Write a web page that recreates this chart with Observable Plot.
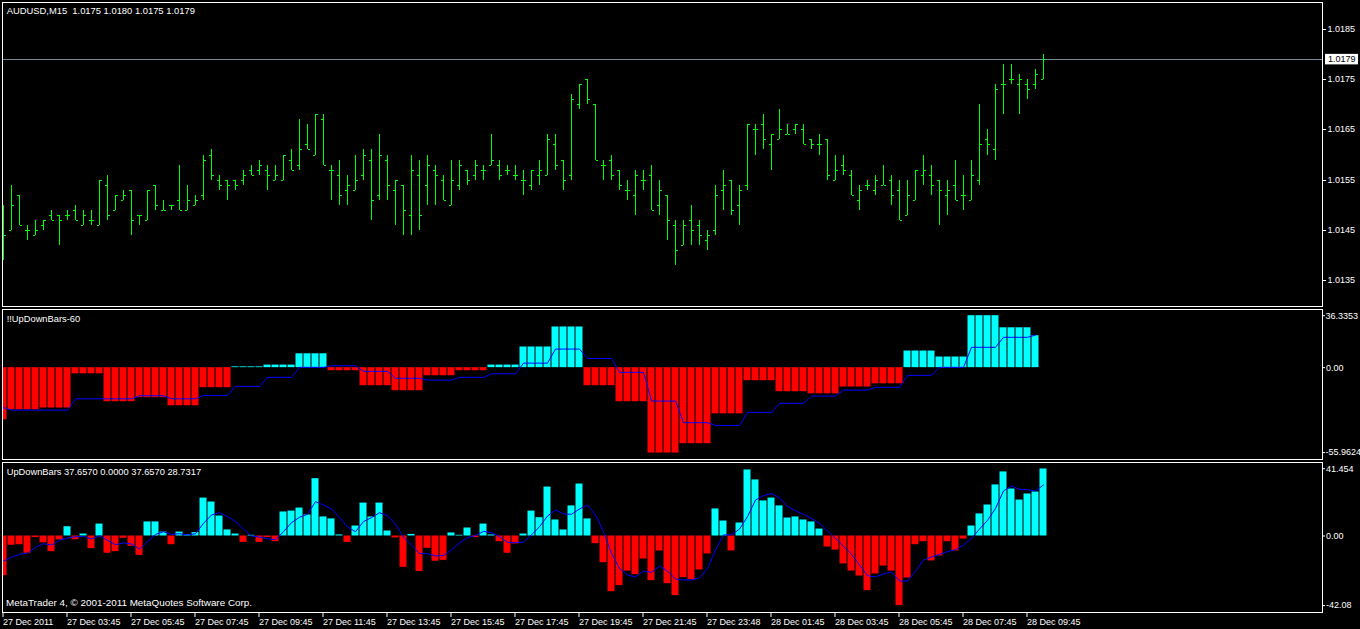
<!DOCTYPE html>
<html><head><meta charset="utf-8">
<script src="https://cdn.jsdelivr.net/npm/d3@7"></script>
<script src="https://cdn.jsdelivr.net/npm/@observablehq/plot@0.6"></script>
<style>
html,body{margin:0;padding:0;background:#000;}
body{width:1360px;height:629px;overflow:hidden;position:relative;}
.panel{position:absolute;left:0;}
svg{display:block}
</style></head><body>
<div id="p1" class="panel" style="top:0"></div>
<div id="p2" class="panel" style="top:308px"></div>
<div id="p3" class="panel" style="top:461px"></div>
<script>
// ---------- data ----------
const symbolTitle = "AUDUSD,M15\u00a0\u00a01.0175 1.0180 1.0175 1.0179";
const udb60Title = "!!UpDownBars-60";
const udbTitle = "UpDownBars 37.6570 0.0000 37.6570 28.7317";
const copyright = "MetaTrader 4, \u00a9 2001-2011 MetaQuotes Software Corp.";

const timeTickBars = [0,8,16,24,32,40,48,56,64,72,80,88,96,104,112,120,128];
const timeTickLabels = ["27 Dec 2011","27 Dec 03:45","27 Dec 05:45","27 Dec 07:45","27 Dec 09:45",
  "27 Dec 11:45","27 Dec 13:45","27 Dec 15:45","27 Dec 17:45","27 Dec 19:45","27 Dec 21:45",
  "27 Dec 23:48","28 Dec 01:45","28 Dec 03:45","28 Dec 05:45","28 Dec 07:45","28 Dec 09:45"];

const priceTicks = [1.0185,1.0175,1.0165,1.0155,1.0145,1.0135];
const lastPrice = 1.0179;

const openPrice = [1.0141,1.0145,1.0152,1.0145,1.0144,1.0146,1.0148,1.0148,1.0148,1.0149,
1.0146,1.0147,1.0146,1.0154,1.0149,1.0151,1.0153,1.0148,1.0147,1.0154,
1.0149,1.0150,1.0151,1.0149,1.0150,1.0152,1.0160,1.0155,1.0155,1.0155,
1.0155,1.0157,1.0157,1.0157,1.0155,1.0155,1.0159,1.0158,1.0162,1.0160,
1.0167,1.0157,1.0156,1.0153,1.0153,1.0156,1.0159,1.0152,1.0159,1.0153,
1.0154,1.0148,1.0156,1.0154,1.0157,1.0155,1.0150,1.0154,1.0157,1.0156,
1.0157,1.0158,1.0158,1.0157,1.0156,1.0155,1.0154,1.0156,1.0156,1.0162,
1.0159,1.0156,1.0170,1.0175,1.0170,1.0158,1.0159,1.0157,1.0153,1.0152,
1.0155,1.0156,1.0150,1.0152,1.0146,1.0142,1.0147,1.0146,1.0143,1.0145,
1.0153,1.0155,1.0150,1.0154,1.0165,1.0166,1.0162,1.0163,1.0164,1.0165,
1.0165,1.0163,1.0162,1.0163,1.0155,1.0158,1.0156,1.0151,1.0154,1.0153,
1.0154,1.0155,1.0153,1.0148,1.0151,1.0156,1.0156,1.0155,1.0152,1.0154,
1.0152,1.0151,1.0155,1.0163,1.0161,1.0174,1.0175,1.0174,1.0174,1.0174,
1.0175];
const highPrice = [1.0150,1.0154,1.0152,1.0146,1.0147,1.0147,1.0149,1.0148,1.0149,1.0150,
1.0149,1.0149,1.0155,1.0156,1.0152,1.0153,1.0153,1.0148,1.0153,1.0154,
1.0151,1.0150,1.0158,1.0154,1.0152,1.0160,1.0161,1.0156,1.0155,1.0155,
1.0157,1.0158,1.0159,1.0158,1.0158,1.0160,1.0161,1.0167,1.0166,1.0168,
1.0168,1.0158,1.0159,1.0156,1.0160,1.0161,1.0161,1.0164,1.0160,1.0155,
1.0154,1.0160,1.0159,1.0160,1.0158,1.0156,1.0159,1.0159,1.0157,1.0159,
1.0158,1.0164,1.0159,1.0158,1.0158,1.0157,1.0157,1.0159,1.0164,1.0164,
1.0159,1.0172,1.0174,1.0175,1.0170,1.0159,1.0160,1.0157,1.0155,1.0157,
1.0157,1.0158,1.0155,1.0152,1.0147,1.0147,1.0150,1.0147,1.0145,1.0154,
1.0157,1.0155,1.0154,1.0166,1.0166,1.0168,1.0164,1.0169,1.0166,1.0166,
1.0166,1.0163,1.0164,1.0163,1.0160,1.0160,1.0157,1.0154,1.0155,1.0156,
1.0158,1.0156,1.0155,1.0155,1.0157,1.0160,1.0158,1.0155,1.0155,1.0159,
1.0156,1.0159,1.0170,1.0165,1.0174,1.0178,1.0178,1.0176,1.0175,1.0177,
1.0180];
const lowPrice = [1.0139,1.0145,1.0146,1.0143,1.0144,1.0145,1.0147,1.0142,1.0147,1.0147,
1.0146,1.0146,1.0146,1.0147,1.0149,1.0151,1.0144,1.0146,1.0147,1.0149,
1.0149,1.0149,1.0149,1.0149,1.0150,1.0151,1.0155,1.0153,1.0151,1.0153,
1.0154,1.0156,1.0156,1.0153,1.0155,1.0155,1.0157,1.0157,1.0161,1.0160,
1.0158,1.0151,1.0150,1.0150,1.0153,1.0155,1.0147,1.0151,1.0151,1.0146,
1.0144,1.0144,1.0145,1.0150,1.0150,1.0151,1.0150,1.0153,1.0154,1.0155,
1.0155,1.0158,1.0155,1.0156,1.0155,1.0152,1.0153,1.0154,1.0156,1.0157,
1.0153,1.0155,1.0169,1.0170,1.0159,1.0155,1.0155,1.0153,1.0151,1.0148,
1.0153,1.0149,1.0148,1.0143,1.0138,1.0142,1.0142,1.0142,1.0141,1.0144,
1.0149,1.0148,1.0146,1.0153,1.0160,1.0161,1.0157,1.0163,1.0164,1.0164,
1.0162,1.0161,1.0160,1.0155,1.0155,1.0156,1.0152,1.0149,1.0153,1.0152,
1.0154,1.0150,1.0147,1.0148,1.0151,1.0154,1.0152,1.0146,1.0148,1.0151,
1.0149,1.0151,1.0154,1.0160,1.0159,1.0168,1.0174,1.0168,1.0171,1.0173,
1.0175];
const closePrice = [1.0144,1.0150,1.0146,1.0145,1.0145,1.0147,1.0147,1.0147,1.0148,1.0147,
1.0148,1.0147,1.0155,1.0148,1.0152,1.0152,1.0147,1.0148,1.0153,1.0150,
1.0149,1.0150,1.0149,1.0151,1.0151,1.0159,1.0156,1.0154,1.0154,1.0154,
1.0156,1.0156,1.0158,1.0156,1.0156,1.0160,1.0157,1.0161,1.0161,1.0168,
1.0158,1.0157,1.0152,1.0154,1.0155,1.0160,1.0151,1.0160,1.0154,1.0155,
1.0149,1.0157,1.0148,1.0158,1.0156,1.0151,1.0155,1.0158,1.0155,1.0158,
1.0157,1.0159,1.0156,1.0157,1.0156,1.0155,1.0157,1.0157,1.0163,1.0158,
1.0155,1.0171,1.0174,1.0171,1.0159,1.0158,1.0156,1.0154,1.0153,1.0156,
1.0155,1.0149,1.0153,1.0147,1.0141,1.0146,1.0145,1.0144,1.0144,1.0152,
1.0154,1.0149,1.0153,1.0166,1.0165,1.0163,1.0164,1.0165,1.0164,1.0166,
1.0162,1.0162,1.0162,1.0156,1.0157,1.0157,1.0152,1.0153,1.0154,1.0155,
1.0154,1.0152,1.0147,1.0152,1.0157,1.0157,1.0154,1.0153,1.0153,1.0151,
1.0152,1.0156,1.0162,1.0162,1.0173,1.0174,1.0175,1.0175,1.0173,1.0176,
1.0179];

// !!UpDownBars-60 : one value per hour (first hour = bar 0 only, then 4 bars per hour)
const udb60Hist = [-32.3,-26.1,-25.0,-3.8,-21.1,-18.6,-23.6,-12.4,0.5,1.6,
  8.6,-1.9,-11.2,-14.3,-5.0,-1.9,1.6,12.8,25.2,-11.2,
  -21.1,-52.9,-47.1,-28.6,-8.1,-14.9,-16.2,-12.0,-10.0,10.3,
  6.6,32.2,24.7,19.8];
const udb60Signal = [-24.8,-26.3,-26.3,-19.3,-19.3,-17.4,-19.3,-17.2,-11.6,-6.0,
  0.2,1.2,-2.3,-6.6,-7.7,-6.0,-3.8,2.8,11.5,5.7,
  -2.9,-20.7,-34.1,-35.8,-27.7,-22.1,-17.6,-13.9,-12.2,-4.8,
  0.2,12.6,18.8,20.2];
const udb60Ticks = [36.3353, 0, -55.9624];
const udb60TickLabels = ["36.3353","0.00","-55.9624"];

// UpDownBars : one value per M15 bar
const udbHist = [-22.3,-5.2,-4.9,-9.7,-0.9,-3.8,-8.8,-2.2,5.2,-2.1,
1.1,-7.1,6.7,-9.7,-8.8,-1.3,-5.8,-10.9,7.9,7.9,
2.2,-4.9,2.2,0.7,1.9,21.3,19.1,11.2,3.4,1.1,
-3.6,0.4,-3.6,-0.9,-3.2,13.5,14.0,15.7,11.8,32.2,
10.7,9.6,0.6,-3.6,5.6,18.5,10.7,18.5,2.8,-1.1,
-17.6,0.9,-19.9,-6.9,-14.2,-13.7,1.7,0.4,4.5,-0.9,
6.7,0.6,-3.2,-9.7,-4.5,1.1,14.0,10.3,27.5,9.0,
3.4,16.9,29.2,9.6,-4.3,-15.0,-31.3,-27.9,-19.7,-21.7,
-12.9,-25.1,-8.4,-26.8,-33.5,-23.4,-24.5,-19.1,-10.1,15.2,
8.4,-8.4,7.3,37.1,31.5,19.7,21.3,16.9,10.1,10.7,
9.0,7.9,3.9,-6.2,-7.9,-15.7,-19.7,-22.5,-30.7,-21.3,
-16.9,-19.7,-39.1,-23.6,-4.9,-3.2,-14.0,-11.2,-3.2,-8.4,
-1.7,5.6,12.4,17.4,28.7,36.0,26.4,20.2,23.6,24.7,
37.657];
const udbSignal = [-14.0,-12.0,-10.3,-9.6,-6.4,-4.3,-5.1,-2.4,-1.1,-0.4,
-0.2,-1.7,0.2,-2.4,-4.9,-3.9,-4.5,-7.3,-3.2,0.9,
2.4,0.9,1.3,0.6,1.3,7.1,11.8,13.1,10.9,8.1,
3.9,0.0,-0.6,-1.5,-2.1,2.4,7.5,10.5,12.2,19.3,
17.4,15.2,10.5,5.1,2.4,8.1,10.3,13.1,11.4,6.6,
-0.6,-5.1,-9.9,-9.9,-11.2,-11.0,-7.9,-3.9,-0.9,0.2,
2.6,1.9,-0.4,-3.6,-3.8,-3.4,0.6,5.2,11.2,14.6,
12.4,12.2,15.2,17.4,11.8,2.4,-9.7,-18.2,-21.9,-23.0,
-19.7,-20.4,-16.9,-19.7,-24.2,-24.7,-24.7,-23.6,-18.2,-7.9,
0.6,0.6,3.9,10.9,20.2,22.7,23.8,21.5,16.5,14.2,
12.2,9.9,7.1,2.8,-1.3,-5.8,-10.3,-16.3,-22.3,-23.0,
-21.3,-20.2,-25.3,-25.3,-19.7,-13.5,-11.8,-10.3,-8.8,-7.7,
-5.1,-1.3,3.9,8.8,15.5,25.3,28.1,26.2,26.0,25.3,
28.7317];
const udbTicks = [41.454, 0, -42.08];
const udbTickLabels = ["41.454","0.00","-42.08"];

// ---------- build ----------
const UP = "#00ffff", DOWN = "#ff0000", SIG = "#0000ff", BARC = "#00ff00";
const FONT = "'Liberation Sans', Arial, sans-serif";
// Plot adds a 0.5px offset at dpr 1, so the range is shifted by -0.5 to land on pixel centres
const xScale = {type: "linear", domain: [0, 130], range: [3, 1043], axis: null};
const half = 0.4375;

const ohlc = openPrice.map((o, i) => ({i, o, h: highPrice[i], l: lowPrice[i], c: closePrice[i]}));

const baseStyle = {background: "#000", color: "#fff", fontFamily: FONT, fontSize: "9px", overflow: "visible"};

// Panel 1 : price bars
const svg1 = Plot.plot({
  width: 1360, height: 308,
  marginLeft: 2, marginRight: 38, marginTop: 2, marginBottom: 2,
  style: baseStyle,
  x: xScale,
  y: {domain: [1.0135, 1.0185], range: [280, 29], round: true, axis: null},
  marks: [
    Plot.ruleY([lastPrice], {stroke: "#778899", strokeWidth: 1}),
    Plot.ruleX(ohlc, {x: "i", y1: "l", y2: "h", stroke: BARC, strokeWidth: 1, clip: "frame"}),
    Plot.link(ohlc, {x1: d => d.i - 0.3125, x2: d => d.i - 0.0625, y1: "o", y2: "o", stroke: BARC, strokeWidth: 1, clip: "frame"}),
    Plot.link(ohlc, {x1: d => d.i + 0.0625, x2: d => d.i + 0.3125, y1: "c", y2: "c", stroke: BARC, strokeWidth: 1, clip: "frame"}),
    Plot.frame({stroke: "#fff", strokeWidth: 1}),
    Plot.axisY(priceTicks, {anchor: "right", label: null, tickSize: 3, tickPadding: 2, tickFormat: d => d.toFixed(4), fontSize: 9, fill: "#fff"}),
    Plot.text([lastPrice], {y: d => d, frameAnchor: "right", dx: 5.5, textAnchor: "start", fill: "#000", fontSize: 9, text: d => d.toFixed(4)}),
    Plot.text([symbolTitle], {frameAnchor: "top-left", dx: 4.2, dy: 4.8, fill: "#fff", fontSize: 9.4, text: d => d})
  ]
});
document.getElementById("p1").appendChild(svg1);
// white box behind the current price label
d3.select(svg1).selectAll("text").filter(function() {
    return this.textContent === lastPrice.toFixed(4) && !this.closest("[aria-label='y-axis tick label']");
  })
  .each(function() {
    const b = this.getBBox();
    const r = document.createElementNS("http://www.w3.org/2000/svg", "rect");
    const tr = this.getAttribute("transform");
    if (tr) r.setAttribute("transform", tr);
    r.setAttribute("x", b.x - 3); r.setAttribute("y", b.y - 0.5);
    r.setAttribute("width", b.width + 5.5); r.setAttribute("height", b.height + 0.5);
    r.setAttribute("fill", "#fff");
    this.parentNode.insertBefore(r, this);
  });

// Panel 2 : !!UpDownBars-60
const hourOfBar = i => Math.floor((i + 3) / 4);
const p2 = d3.range(130).map(i => ({i, v: udb60Hist[hourOfBar(i)], s: udb60Signal[hourOfBar(i)]}));
const svg2 = Plot.plot({
  width: 1360, height: 153,
  marginLeft: 2, marginRight: 38, marginTop: 1, marginBottom: 2,
  style: baseStyle,
  x: xScale,
  y: {domain: [-55.9624, 36.3353], range: [149.5, 0.5], axis: null},
  marks: [
    Plot.rect(p2.filter(d => d.v >= 0), {x1: d => d.i - half, x2: d => d.i + half, y1: () => 0, y2: "v", fill: UP, clip: "frame"}),
    Plot.rect(p2.filter(d => d.v < 0), {x1: d => d.i - half, x2: d => d.i + half, y1: () => 0, y2: "v", fill: DOWN, clip: "frame"}),
    Plot.line(p2, {x: "i", y: "s", stroke: SIG, strokeWidth: 1, clip: "frame"}),
    Plot.frame({stroke: "#fff", strokeWidth: 1}),
    Plot.axisY([udb60Ticks[0]], {anchor: "right", label: null, tickSize: 2, tickPadding: 1, dy: 6.7, tickFormat: () => udb60TickLabels[0], fontSize: 9}),
    Plot.axisY([udb60Ticks[1]], {anchor: "right", label: null, tickSize: 2, tickPadding: 1.5, tickFormat: () => udb60TickLabels[1], fontSize: 9}),
    Plot.axisY([udb60Ticks[2]], {anchor: "right", label: null, tickSize: 2, tickPadding: 1, dy: -5.4, tickFormat: () => udb60TickLabels[2], fontSize: 9}),
    Plot.text([udb60Title], {frameAnchor: "top-left", dx: 4.2, dy: 6.0, fill: "#fff", fontSize: 9.3, text: d => d})
  ]
});
document.getElementById("p2").appendChild(svg2);

// Panel 3 : UpDownBars + time axis
const p3 = udbHist.map((v, i) => ({i, v, s: udbSignal[i]}));
const svg3 = Plot.plot({
  width: 1360, height: 168,
  marginLeft: 2, marginRight: 38, marginTop: 1, marginBottom: 17,
  style: baseStyle,
  x: xScale,
  y: {domain: [-42.08, 41.454], range: [149.4, 0.7], axis: null},
  marks: [
    Plot.rect(p3.filter(d => d.v >= 0), {x1: d => d.i - half, x2: d => d.i + half, y1: () => 0, y2: "v", fill: UP, clip: "frame"}),
    Plot.rect(p3.filter(d => d.v < 0), {x1: d => d.i - half, x2: d => d.i + half, y1: () => 0, y2: "v", fill: DOWN, clip: "frame"}),
    Plot.line(p3, {x: "i", y: "s", stroke: SIG, strokeWidth: 1, clip: "frame"}),
    Plot.frame({stroke: "#fff", strokeWidth: 1}),
    Plot.axisY([udbTicks[0]], {anchor: "right", label: null, tickSize: 2, tickPadding: 1.5, dy: 6.5, tickFormat: () => udbTickLabels[0], fontSize: 9}),
    Plot.axisY([udbTicks[1]], {anchor: "right", label: null, tickSize: 2, tickPadding: 1.5, tickFormat: () => udbTickLabels[1], fontSize: 9}),
    Plot.axisY([udbTicks[2]], {anchor: "right", label: null, tickSize: 2, tickPadding: 1.5, dy: -5.3, tickFormat: () => udbTickLabels[2], fontSize: 9}),
    Plot.axisX(timeTickBars, {anchor: "bottom", label: null, tickSize: 5, tickPadding: 1, textAnchor: "start", dx: -0.5,
      tickFormat: d => timeTickLabels[timeTickBars.indexOf(d)], fontSize: 9}),
    Plot.text([udbTitle], {frameAnchor: "top-left", dx: 4.2, dy: 6.2, fill: "#fff", fontSize: 9.3, text: d => d}),
    Plot.text([copyright], {frameAnchor: "bottom-left", lineAnchor: "bottom", dx: 3.5, dy: -6.3, fill: "#fff", fontSize: 9.9, text: d => d})
  ]
});
document.getElementById("p3").appendChild(svg3);
</script>
</body></html>
